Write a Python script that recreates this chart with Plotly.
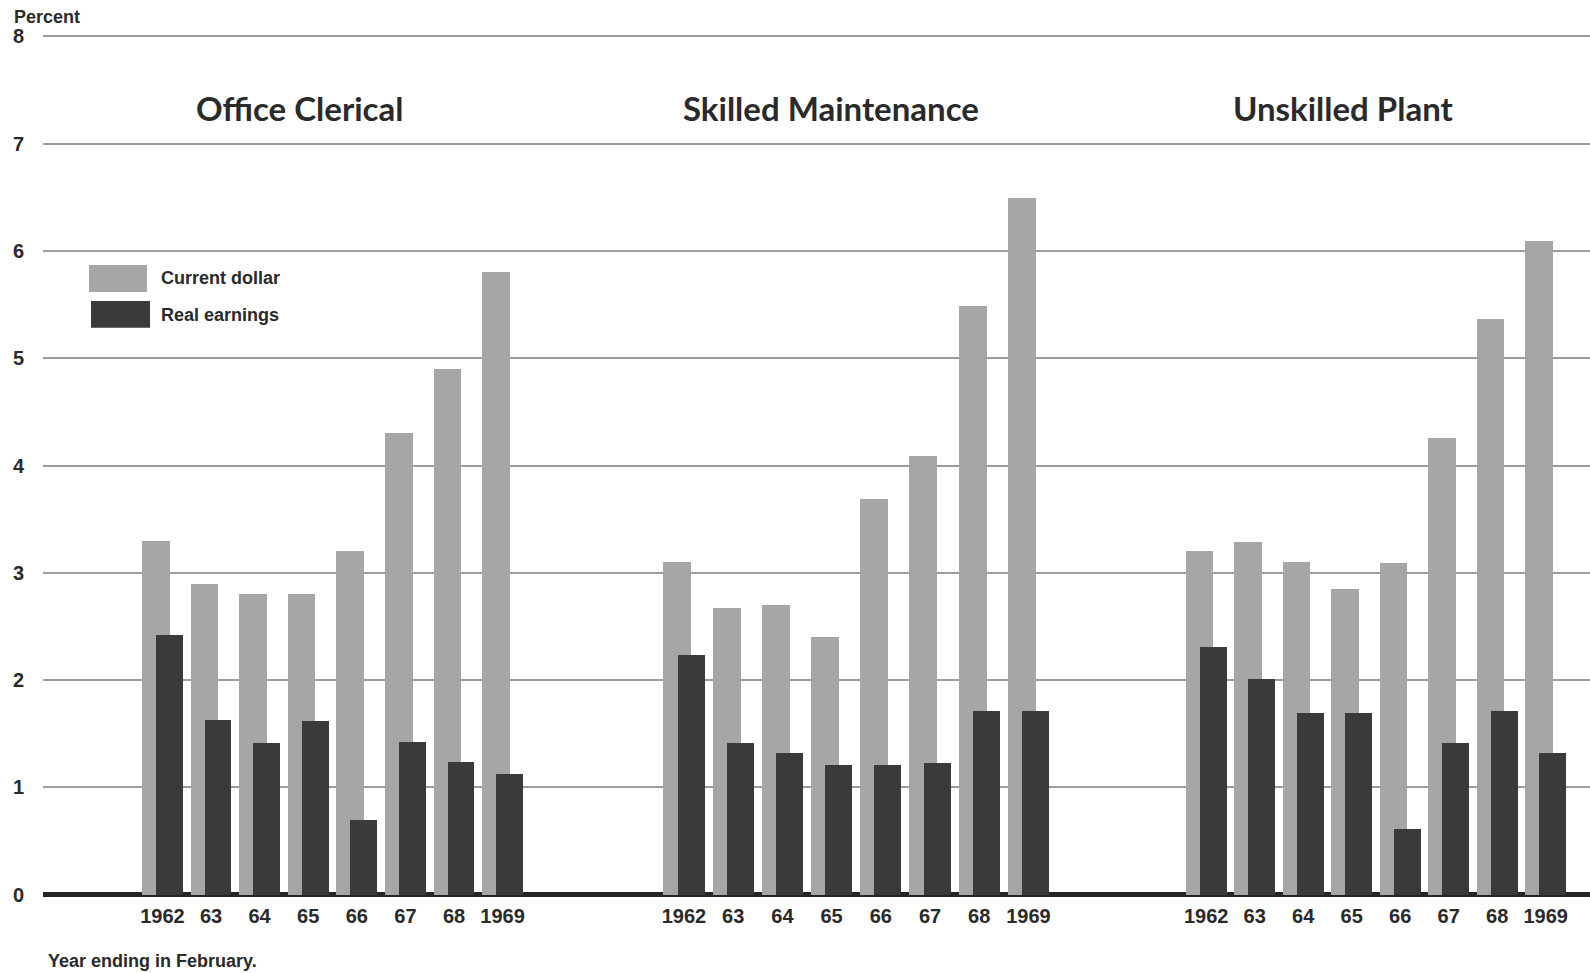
import plotly.graph_objects as go

# ---------------- data ----------------
years = ["1962", "63", "64", "65", "66", "67", "68", "1969"]
groups = ["Office Clerical", "Skilled Maintenance", "Unskilled Plant"]
series_names = ["Current dollar", "Real earnings"]

current_office = [3.3, 2.9, 2.8, 2.8, 3.2, 4.3, 4.9, 5.8]
real_office = [2.42, 1.63, 1.41, 1.62, 0.70, 1.42, 1.24, 1.12]
current_skilled = [3.1, 2.67, 2.7, 2.4, 3.69, 4.09, 5.49, 6.49]
real_skilled = [2.23, 1.41, 1.32, 1.21, 1.21, 1.23, 1.71, 1.71]
current_unskilled = [3.2, 3.29, 3.1, 2.85, 3.09, 4.26, 5.37, 6.09]
real_unskilled = [2.31, 2.01, 1.69, 1.69, 0.61, 1.41, 1.71, 1.32]

y_ticks = [0, 1, 2, 3, 4, 5, 6, 7, 8]
footnote = "Year ending in February."
y_label = "Percent"

current_by_group = [current_office, current_skilled, current_unskilled]
real_by_group = [real_office, real_skilled, real_unskilled]

# ---------------- layout geometry (page pixels) ----------------
W, H = 1590, 973
PLOT_L, PLOT_R, PLOT_T, PLOT_B = 43, 1590, 31, 900.4
ML, MR, MT = PLOT_L, W - PLOT_R, PLOT_T
MB = H - PLOT_B
PW, PH = W - ML - MR, H - MT - MB

LIGHT = "#a6a6a6"
DARK = "#3a3a3a"
TXT = "#2a2a2a"
GRID = "#9d9d9d"

first_center_px = [162.4, 684.0, 1206.2]
unit_px = [48.6, 49.2, 48.5]
bounds_px = [PLOT_L, 593.0, 1117.0, PLOT_R]


def px_x(px):
    return (px - PLOT_L) / PW


def px_y(py):
    return (PLOT_B - py) / PH


fig = go.Figure()
for g in range(3):
    xa = "x" if g == 0 else f"x{g + 1}"
    fig.add_trace(go.Bar(
        x=years, y=current_by_group[g], name=series_names[0],
        xaxis=xa, yaxis="y", offset=-0.42, width=0.57,
        marker=dict(color=LIGHT, line=dict(width=0)), showlegend=False,
    ))
    fig.add_trace(go.Bar(
        x=years, y=real_by_group[g], name=series_names[1],
        xaxis=xa, yaxis="y", offset=-0.13, width=0.55,
        marker=dict(color=DARK, line=dict(width=0)), showlegend=False,
    ))

tickfont = dict(family="Liberation Sans, Arial, sans-serif", size=20, color=TXT, weight=700)

layout_axes = {}
for g in range(3):
    lo = (bounds_px[g] - first_center_px[g]) / unit_px[g]
    hi = (bounds_px[g + 1] - first_center_px[g]) / unit_px[g]
    key = "xaxis" if g == 0 else f"xaxis{g + 1}"
    layout_axes[key] = dict(
        domain=[px_x(bounds_px[g]), min(1.0, px_x(bounds_px[g + 1]))],
        type="category", range=[lo, hi], anchor="y",
        showgrid=False, zeroline=False, showline=False, ticks="",
        tickfont=tickfont, ticklabelstandoff=2, fixedrange=True,
    )

fig.update_layout(
    width=W, height=H,
    margin=dict(l=ML, r=MR, t=MT, b=MB),
    paper_bgcolor="white", plot_bgcolor="white",
    barmode="overlay", bargap=0,
    showlegend=False,
    yaxis=dict(
        range=[-0.05, 8.05], tickvals=y_ticks, ticktext=[str(v) for v in y_ticks],
        showgrid=True, gridcolor=GRID, gridwidth=2,
        zeroline=True, zerolinecolor="#252525", zerolinewidth=5,
        showline=False, ticks="", tickfont=tickfont, ticklabelstandoff=18,
        anchor="x", fixedrange=True,
    ),
    **layout_axes,
)

# group titles
title_font = dict(family="Lato, Liberation Sans, sans-serif", size=33, color=TXT, weight=700)
title_centers_px = [299, 831, 1343]
for g in range(3):
    fig.add_annotation(
        text=groups[g], xref="paper", yref="paper",
        x=px_x(title_centers_px[g]), y=px_y(108.5),
        xanchor="center", yanchor="middle", showarrow=False, font=title_font,
    )

# y label
fig.add_annotation(
    text=y_label, xref="paper", yref="paper", x=px_x(12), y=px_y(17),
    xanchor="left", yanchor="middle", showarrow=False,
    font=dict(family="Liberation Sans, Arial, sans-serif", size=18, color=TXT, weight=700),
)

# footnote
fig.add_annotation(
    text=footnote, xref="paper", yref="paper", x=px_x(46), y=px_y(961),
    xanchor="left", yanchor="middle", showarrow=False,
    font=dict(family="Liberation Sans, Arial, sans-serif", size=18, color=TXT, weight=700),
)

# legend (drawn manually)
legend_items = [
    (series_names[0], LIGHT, (89, 265, 147, 292), 278.5),
    (series_names[1], DARK, (91, 301, 150, 328), 315),
]
for name, color, (x0, y0, x1, y1), ty in legend_items:
    fig.add_shape(type="rect", xref="paper", yref="paper",
                  x0=px_x(x0), x1=px_x(x1), y0=px_y(y1), y1=px_y(y0),
                  fillcolor=color, line=dict(width=0), layer="above")
    fig.add_annotation(
        text=name, xref="paper", yref="paper", x=px_x(159), y=px_y(ty),
        xanchor="left", yanchor="middle", showarrow=False,
        font=dict(family="Liberation Sans, Arial, sans-serif", size=18, color=TXT, weight=700),
    )

fig.write_html(
    "out.html",
    config={"displayModeBar": False},
    post_script=(
        "document.body.style.margin='0';"
        "document.body.style.padding='0';"
        "document.body.style.overflow='hidden';"
        "document.documentElement.style.overflow='hidden';"
    ),
)
